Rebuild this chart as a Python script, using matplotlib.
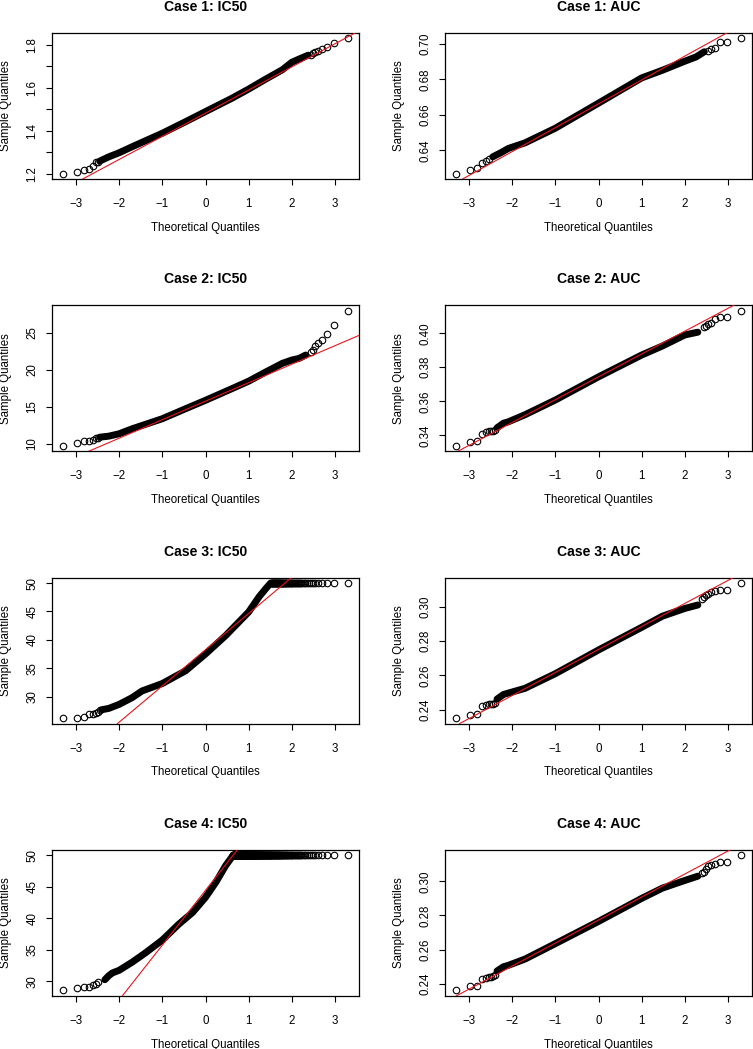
from statistics import NormalDist
import numpy as np
import matplotlib
matplotlib.use("Agg")
import matplotlib.pyplot as plt

plt.rcParams['font.family'] = ['Liberation Sans', 'DejaVu Sans']
plt.rcParams['axes.unicode_minus'] = True

n_obs = 1000  # sample size behind every panel

titles = ["Case 1: IC50", "Case 1: AUC", "Case 2: IC50", "Case 2: AUC",
          "Case 3: IC50", "Case 3: AUC", "Case 4: IC50", "Case 4: AUC"]

x_ticks = [-3, -2, -1, 0, 1, 2, 3]

# ---- Case 1: IC50 ----
p1_low = [1.200, 1.206, 1.216, 1.220, 1.236, 1.252, 1.255]          # ranks 1..
p1_band_z = [-2.45, -2.24, -2.0, -1.7, -1.0, -0.46, 0.0, 0.62, 1.0, 1.4, 1.78, 2.0, 2.17, 2.38]
p1_band_y = [1.258, 1.278, 1.297, 1.325, 1.388, 1.442, 1.489, 1.552, 1.594, 1.641, 1.684, 1.719, 1.734, 1.752]
p1_high = [1.755, 1.760, 1.766, 1.773, 1.781, 1.789, 1.809, 1.830]    # ranks ..n
p1_line = (1.4816, 0.1079)
p1_yticks = [1.2, 1.3, 1.4, 1.5, 1.6, 1.7, 1.8]
p1_ylabels = ["1.2", "", "1.4", "", "1.6", "", "1.8"]

# ---- Case 1: AUC ----
p2_low = [0.6270, 0.6290, 0.6300, 0.6328, 0.6340, 0.6350]
p2_band_z = [-2.45, -2.24, -2.09, -1.7, -1.0, 0.0, 1.0, 1.48, 2.0, 2.26, 2.45]
p2_band_y = [0.6364, 0.6390, 0.6411, 0.6443, 0.6525, 0.6666, 0.6808, 0.6851, 0.6902, 0.6926, 0.6955]
p2_high = [0.6962, 0.6968, 0.6977, 0.7009, 0.7009, 0.7030]
p2_line = (0.6662, 0.01343)
p2_yticks = [0.64, 0.66, 0.68, 0.70]
p2_ylabels = ["0.64", "0.66", "0.68", "0.70"]

# ---- Case 2: IC50 ----
p3_low = [9.73, 10.14, 10.36, 10.40, 10.50, 10.77, 10.80]
p3_band_z = [-2.45, -2.24, -2.0, -1.7, -1.0, -0.46, 0.0, 0.62, 1.0, 1.4, 1.78, 2.0, 2.17, 2.32]
p3_band_y = [10.90, 11.04, 11.36, 12.03, 13.39, 14.74, 15.87, 17.46, 18.45, 19.70, 20.85, 21.30, 21.52, 21.97]
p3_high = [22.43, 22.65, 23.20, 23.56, 24.00, 24.78, 26.04, 27.94]
p3_line = (15.75, 2.494)
p3_yticks = [10, 15, 20, 25]
p3_ylabels = ["10", "15", "20", "25"]

# ---- Case 2: AUC ----
p4_low = [0.3339, 0.3361, 0.3369, 0.3408, 0.3422, 0.3424, 0.3424, 0.3425, 0.3430]
p4_band_z = [-2.35, -2.2, -2.09, -1.7, -1.0, 0.0, 1.0, 1.48, 2.0, 2.3]
p4_band_y = [0.3445, 0.3472, 0.3480, 0.3522, 0.3608, 0.3744, 0.3872, 0.3925, 0.3990, 0.4006]
p4_high = [0.4035, 0.4045, 0.4053, 0.4059, 0.4085, 0.4093, 0.4093, 0.4132]
p4_line = (0.3744, 0.01341)
p4_yticks = [0.34, 0.36, 0.38, 0.40]
p4_ylabels = ["0.34", "0.36", "0.38", "0.40"]

# ---- Case 3: IC50 (capped at 50) ----
p5_low = [26.21, 26.27, 26.45, 26.86, 26.98, 27.16, 27.34, 27.57]
p5_band_z = [-2.4, -2.24, -2.0, -1.7, -1.47, -1.0, -0.46, 0.0, 0.47, 1.0, 1.24, 1.4, 1.51]
p5_band_y = [27.70, 27.93, 28.64, 29.82, 31.00, 32.31, 34.56, 37.51, 40.77, 44.91, 47.57, 49.05, 50.0]
p5_cap = (50.0, 64)   # value, number of observations at the cap
p5_line = (38.26, 6.377)
p5_yticks = [30, 35, 40, 45, 50]
p5_ylabels = ["30", "35", "40", "45", "50"]

# ---- Case 3: AUC ----
p6_low = [0.2351, 0.2370, 0.2378, 0.2420, 0.2430, 0.2433, 0.2433, 0.2435, 0.2440]
p6_band_z = [-2.35, -2.2, -2.09, -1.7, -1.0, 0.0, 1.0, 1.48, 2.0, 2.3]
p6_band_y = [0.2462, 0.2489, 0.2497, 0.2525, 0.2610, 0.2748, 0.2880, 0.2945, 0.2990, 0.3010]
p6_high = [0.3043, 0.3055, 0.3070, 0.3075, 0.3083, 0.3089, 0.3098, 0.3098, 0.3138]
p6_line = (0.2751, 0.01341)
p6_yticks = [0.24, 0.26, 0.28, 0.30]
p6_ylabels = ["0.24", "0.26", "0.28", "0.30"]

# ---- Case 4: IC50 (capped at 50) ----
p7_low = [28.56, 28.93, 29.04, 29.04, 29.47, 29.63, 29.84]
p7_band_z = [-2.33, -2.24, -2.16, -2.0, -1.85, -1.7, -1.39, -1.0, -0.62, -0.3, 0.0, 0.24, 0.47, 0.64]
p7_band_y = [30.27, 30.90, 31.33, 31.76, 32.40, 33.04, 34.53, 36.56, 39.07, 40.93, 43.33, 45.73, 48.40, 50.0]
p7_cap = (50.0, 262)
p7_line = (44.45, 8.70)
p7_yticks = [30, 35, 40, 45, 50]
p7_ylabels = ["30", "35", "40", "45", "50"]

# ---- Case 4: AUC ----
p8_low = [0.2361, 0.2388, 0.2390, 0.2430, 0.2437, 0.2440, 0.2440, 0.2443, 0.2450]
p8_band_z = [-2.35, -2.2, -2.09, -1.7, -1.0, 0.0, 1.0, 1.48, 2.0, 2.3]
p8_band_y = [0.2475, 0.2500, 0.2508, 0.2545, 0.2635, 0.2765, 0.2900, 0.2960, 0.3005, 0.3030]
p8_high = [0.3047, 0.3057, 0.3073, 0.3089, 0.3093, 0.3102, 0.3112, 0.3112, 0.3152]
p8_line = (0.2773, 0.01348)
p8_yticks = [0.24, 0.26, 0.28, 0.30]
p8_ylabels = ["0.24", "0.26", "0.28", "0.30"]


def theo(rank):
    # R ppoints for n > 10
    return NormalDist().inv_cdf((rank - 0.5) / n_obs)


def tails(low, high=None, cap=None):
    zs, ys = [], []
    for i, v in enumerate(low):
        zs.append(theo(i + 1))
        ys.append(v)
    if high is not None:
        k = len(high)
        for i, v in enumerate(high):
            zs.append(theo(n_obs - k + 1 + i))
            ys.append(v)
    if cap is not None:
        val, cnt = cap
        for r in range(n_obs - cnt + 1, n_obs + 1):
            zs.append(theo(r))
            ys.append(val)
    return zs, ys


panels = [
    (p1_low, p1_band_z, p1_band_y, p1_high, None, p1_line, p1_yticks, p1_ylabels),
    (p2_low, p2_band_z, p2_band_y, p2_high, None, p2_line, p2_yticks, p2_ylabels),
    (p3_low, p3_band_z, p3_band_y, p3_high, None, p3_line, p3_yticks, p3_ylabels),
    (p4_low, p4_band_z, p4_band_y, p4_high, None, p4_line, p4_yticks, p4_ylabels),
    (p5_low, p5_band_z, p5_band_y, None, p5_cap, p5_line, p5_yticks, p5_ylabels),
    (p6_low, p6_band_z, p6_band_y, p6_high, None, p6_line, p6_yticks, p6_ylabels),
    (p7_low, p7_band_z, p7_band_y, None, p7_cap, p7_line, p7_yticks, p7_ylabels),
    (p8_low, p8_band_z, p8_band_y, p8_high, None, p8_line, p8_yticks, p8_ylabels),
]

W, H = 753, 1049
fig = plt.figure(figsize=(W / 100, H / 100), dpi=100)

col_x = [52, 445]
ax_w, ax_h = 307, 146
row_step = 272.3
fs = 8.3

zmax = theo(n_obs)
xpad = 0.04 * 2 * zmax

for k, (low, bz, by, high, cap, line, yt, yl) in enumerate(panels):
    r, c = divmod(k, 2)
    top = 33 + row_step * r
    ax = fig.add_axes([col_x[c] / W, 1 - (top + ax_h) / H, ax_w / W, ax_h / H])

    tz, ty = tails(low, high, cap)
    allv = list(ty) + list(by)
    lo, hi = min(allv), max(allv)
    ypad = 0.04 * (hi - lo)

    ax.plot(bz, by, color='black', lw=5.0, solid_capstyle='round', solid_joinstyle='round', zorder=2)
    ax.plot(tz, ty, 'o', mfc='none', mec='black', ms=4.7, mew=0.8, zorder=2)
    ax.axline((0, line[0]), slope=line[1], color='#e8141c', lw=0.8, zorder=3)

    ax.set_xlim(-zmax - xpad, zmax + xpad)
    ax.set_ylim(lo - ypad, hi + ypad)
    ax.set_xticks(x_ticks)
    ax.set_xticklabels([str(t).replace('-', '\u2212') for t in x_ticks])
    ax.set_yticks(yt)
    ax.set_yticklabels(yl, rotation=90, va='center')

    ax.tick_params(axis='both', direction='out', length=4.3, width=0.8, labelsize=fs, colors='black')
    ax.tick_params(axis='x', pad=9.5)
    ax.tick_params(axis='y', pad=5.3)
    for sp in ax.spines.values():
        sp.set_linewidth(0.9)
        sp.set_color('black')

    ax.set_title(titles[k], fontsize=10.1, fontweight='bold', y=1 + 22 / ax_h, va='baseline', pad=0)
    ax.set_xlabel("Theoretical Quantiles", fontsize=fs)
    ax.xaxis.label.set_va('center')
    ax.xaxis.set_label_coords(0.5, -48.7 / ax_h)
    ax.set_ylabel("Sample Quantiles", fontsize=fs)
    ax.yaxis.label.set_va('center')
    ax.yaxis.set_label_coords(-46 / ax_w, 0.5)

fig.savefig("out.png", dpi=100)
